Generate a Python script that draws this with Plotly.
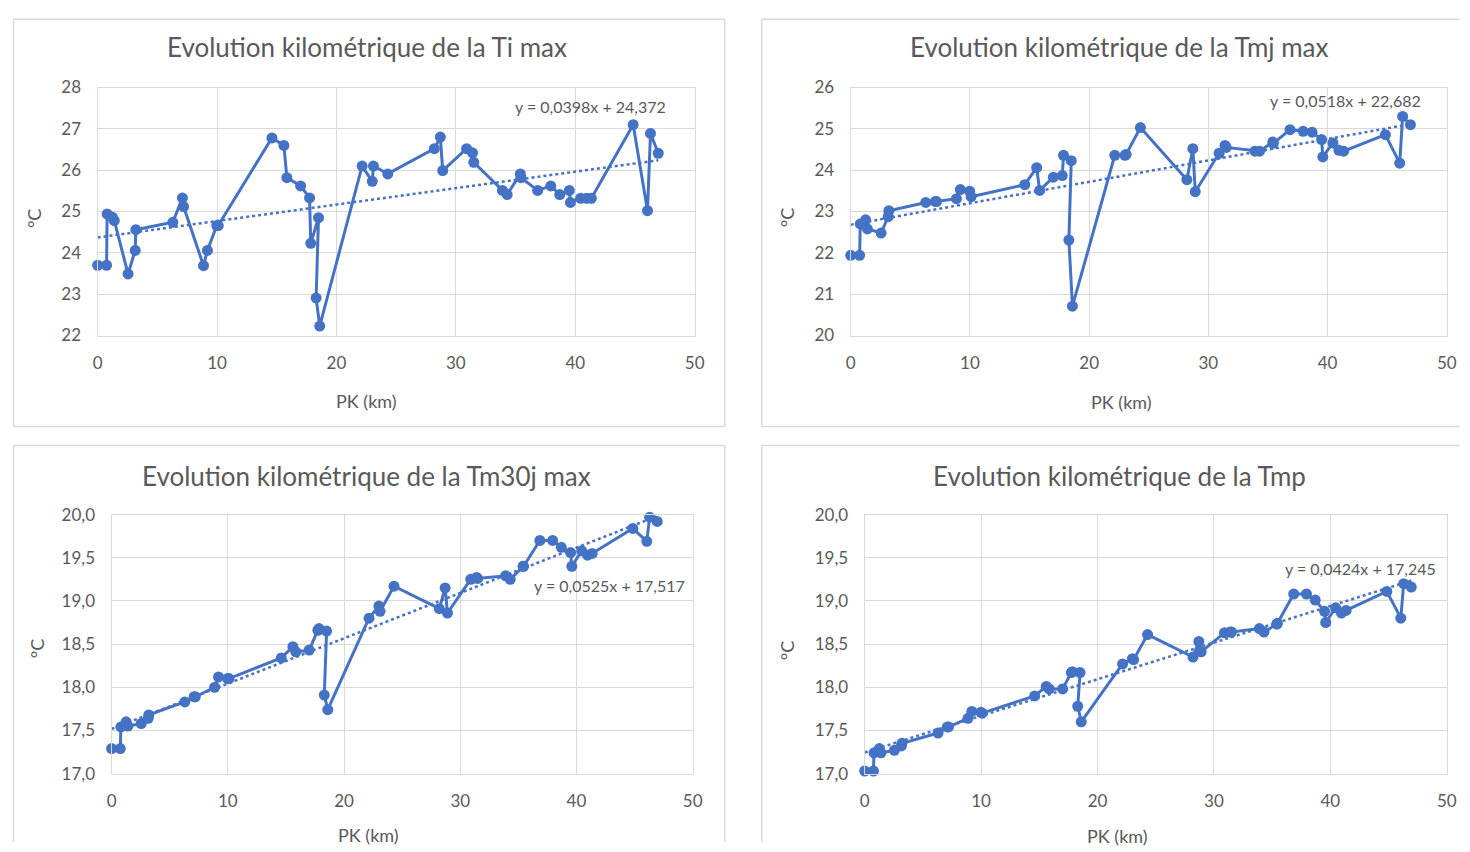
import plotly.graph_objects as go

# ---------------- data ----------------
pk_km = [0.0, 0.75, 0.8, 1.25, 1.4, 2.55, 3.15, 3.2, 6.3, 7.1, 7.2, 8.87, 9.2, 9.98, 10.1,
         14.6, 15.6, 15.85, 17.0, 17.75, 17.85, 18.5, 18.3, 18.6, 22.15, 23.0, 23.1, 24.3,
         28.2, 28.7, 28.9, 30.9, 31.4, 31.5, 33.9, 34.3, 35.4, 35.45, 36.85, 37.95, 38.7,
         39.5, 39.6, 40.45, 40.95, 41.35, 44.85, 46.05, 46.3, 46.95]

ti_max = [23.7, 23.7, 24.94, 24.86, 24.78, 23.49, 24.06, 24.56, 24.74, 25.33, 25.12, 23.69,
          24.06, 24.66, 24.66, 26.78, 26.6, 25.82, 25.62, 25.33, 24.23, 24.85, 22.91, 22.23,
          26.1, 25.73, 26.1, 25.91, 26.52, 26.8, 25.99, 26.52, 26.42, 26.19, 25.51, 25.41,
          25.91, 25.82, 25.51, 25.62, 25.41, 25.51, 25.22, 25.32, 25.32, 25.32, 27.1, 25.02,
          26.89, 26.41]

tmj_max = [21.94, 21.94, 22.7, 22.8, 22.58, 22.48, 22.88, 23.02, 23.22, 23.24, 23.24, 23.31,
           23.53, 23.49, 23.36, 23.65, 24.06, 23.51, 23.83, 23.87, 24.36, 24.23, 22.31, 20.71,
           24.36, 24.36, 24.38, 25.03, 23.77, 24.52, 23.48, 24.41, 24.6, 24.55, 24.46, 24.46,
           24.68, 24.65, 24.98, 24.94, 24.92, 24.74, 24.32, 24.66, 24.48, 24.46, 24.86, 24.17,
           25.3, 25.1]

tm30j_max = [17.29, 17.29, 17.54, 17.6, 17.55, 17.58, 17.64, 17.68, 17.83, 17.89, 17.89, 18.0,
             18.12, 18.1, 18.1, 18.34, 18.47, 18.41, 18.43, 18.66, 18.68, 18.65, 17.91, 17.74,
             18.8, 18.94, 18.88, 19.17, 18.91, 19.15, 18.86, 19.25, 19.27, 19.26, 19.29, 19.25,
             19.4, 19.4, 19.7, 19.7, 19.62, 19.56, 19.4, 19.58, 19.53, 19.55, 19.84, 19.69,
             19.97, 19.92]

tmp = [17.03, 17.03, 17.24, 17.29, 17.24, 17.27, 17.32, 17.35, 17.47, 17.54, 17.54, 17.64,
       17.72, 17.71, 17.7, 17.9, 18.01, 17.98, 17.98, 18.17, 18.18, 18.17, 17.78, 17.6,
       18.27, 18.33, 18.32, 18.61, 18.35, 18.53, 18.41, 18.63, 18.64, 18.64, 18.68, 18.64,
       18.73, 18.74, 19.08, 19.08, 19.01, 18.88, 18.75, 18.92, 18.86, 18.89, 19.11, 18.8,
       19.2, 19.16]

titles = ["Evolution kilométrique de la Ti max", "Evolution kilométrique de la Tmj max",
          "Evolution kilométrique de la Tm30j max", "Evolution kilométrique de la Tmp"]
trend_slope = [0.0398, 0.0518, 0.0525, 0.0424]
trend_intercept = [24.372, 22.682, 17.517, 17.245]
y_ranges = [[22, 28], [20, 26], [17.0, 20.0], [17.0, 20.0]]
y_dticks = [1, 1, 0.5, 0.5]
y_formats = ["d", "d", ".1f", ".1f"]
x_range = [0, 50]
x_title = "PK (km)"
y_title = "°C"

# ---------------- layout helpers ----------------
OFF = 8                      # page body margin
W, H = 1470 - OFF, 852 - OFF
# observed mapping between page pixels and the returned picture
SX, CX = 0.9896, 5.5
SY, CY = 0.975, 10.7
BLUE = "#4472C4"
GREY_TXT = "#595959"
GRID = "#d9d9d9"
FONT = "Lato"

def px(x):
    lx = (x - CX) / SX - OFF
    return min(max(lx / W, 0.0004), 0.9996)

def py(y):
    ly = (y - CY) / SY - OFF
    return min(max(1 - ly / H, 0.0004), 0.9996)

# positions given in target-picture pixels
areas = [(98, 695, 87, 335), (851, 1447, 87, 335), (112, 693, 514, 773), (865, 1447, 514, 773)]
frame_segments = [
    [((8, 10), (725, 10)), ((725, 10), (725, 426)), ((725, 426), (8, 426)), ((8, 426), (8, 10))],
    [((762, 10), (1470, 10)), ((762, 10), (762, 426)), ((762, 426), (1470, 426))],
    [((8, 445), (725, 445)), ((8, 445), (8, 860)), ((725, 445), (725, 860))],
    [((762, 445), (1470, 445)), ((762, 445), (762, 860))],
]
title_pos = [(367, 46), (1120, 46), (367, 475), (1120, 475)]
xtitle_pos = [(367, 400), (1122, 401), (369, 834), (1118, 835)]
ytitle_pos = [(34, 218), (787, 217), (37, 648), (787, 650)]
eq_pos = [(591, 106), (1346, 100), (610, 585), (1361, 568)]

series = [ti_max, tmj_max, tm30j_max, tmp]

fig = go.Figure()
layout_axes = {}
annotations = []
shapes = []

for i, ys in enumerate(series):
    n = i + 1
    xa = "x" if n == 1 else f"x{n}"
    ya = "y" if n == 1 else f"y{n}"
    # trendline (from displayed equation)
    xt = [min(pk_km), max(pk_km)]
    yt = [trend_slope[i] * v + trend_intercept[i] for v in xt]
    fig.add_trace(go.Scatter(x=xt, y=yt, mode="lines", xaxis=xa, yaxis=ya,
                             line=dict(color=BLUE, width=2.5, dash="dot"),
                             showlegend=False, hoverinfo="skip"))
    fig.add_trace(go.Scatter(x=pk_km, y=ys, mode="lines+markers", xaxis=xa, yaxis=ya,
                             line=dict(color=BLUE, width=3),
                             marker=dict(color=BLUE, size=11),
                             cliponaxis=False, showlegend=False))

    l, r, t, b = areas[i]
    axcommon = dict(showgrid=True, gridcolor=GRID, gridwidth=1.3, zeroline=False,
                    showline=True, linecolor=GRID, linewidth=1.3, mirror=True,
                    tickfont=dict(family=FONT, size=17, color=GREY_TXT), ticks="",
                    fixedrange=True)
    layout_axes["xaxis" if n == 1 else f"xaxis{n}"] = dict(
        domain=[px(l), px(r)], range=x_range, dtick=10, tick0=0,
        anchor=ya, ticklabelstandoff=12, **axcommon)
    layout_axes["yaxis" if n == 1 else f"yaxis{n}"] = dict(
        domain=[py(b), py(t)], range=y_ranges[i], dtick=y_dticks[i],
        tickformat=y_formats[i], anchor=xa, ticklabelstandoff=12, **axcommon)

    for (x0, y0), (x1, y1) in frame_segments[i]:
        shapes.append(dict(type="line", xref="paper", yref="paper",
                           x0=px(x0), x1=px(x1), y0=py(y0), y1=py(y1),
                           line=dict(color="#d9d9d9", width=1.5), layer="below"))

    tx, ty = title_pos[i]
    annotations.append(dict(text=titles[i], x=px(tx), y=py(ty), xref="paper", yref="paper",
                            showarrow=False, xanchor="center", yanchor="middle",
                            font=dict(family=FONT, size=26, color=GREY_TXT)))
    ax_, ay_ = xtitle_pos[i]
    annotations.append(dict(text=x_title, x=px(ax_), y=py(ay_), xref="paper", yref="paper",
                            showarrow=False, xanchor="center", yanchor="middle",
                            font=dict(family=FONT, size=18, color=GREY_TXT)))
    bx, by = ytitle_pos[i]
    annotations.append(dict(text=y_title, x=px(bx), y=py(by), xref="paper", yref="paper",
                            showarrow=False, xanchor="center", yanchor="middle", textangle=-90,
                            font=dict(family=FONT, size=18, color=GREY_TXT)))
    ex, ey = eq_pos[i]
    eq = f"y = {trend_slope[i]:.4f}x + {trend_intercept[i]:.3f}".replace(".", ",")
    annotations.append(dict(text=eq, x=px(ex), y=py(ey), xref="paper", yref="paper",
                            showarrow=False, xanchor="center", yanchor="middle",
                            font=dict(family=FONT, size=16, color=GREY_TXT)))

fig.update_layout(width=W, height=H, margin=dict(l=0, r=0, t=0, b=0),
                  paper_bgcolor="white", plot_bgcolor="white", separators=", ",
                  annotations=annotations, shapes=shapes, showlegend=False,
                  **layout_axes)

fig.write_html("out.html")
